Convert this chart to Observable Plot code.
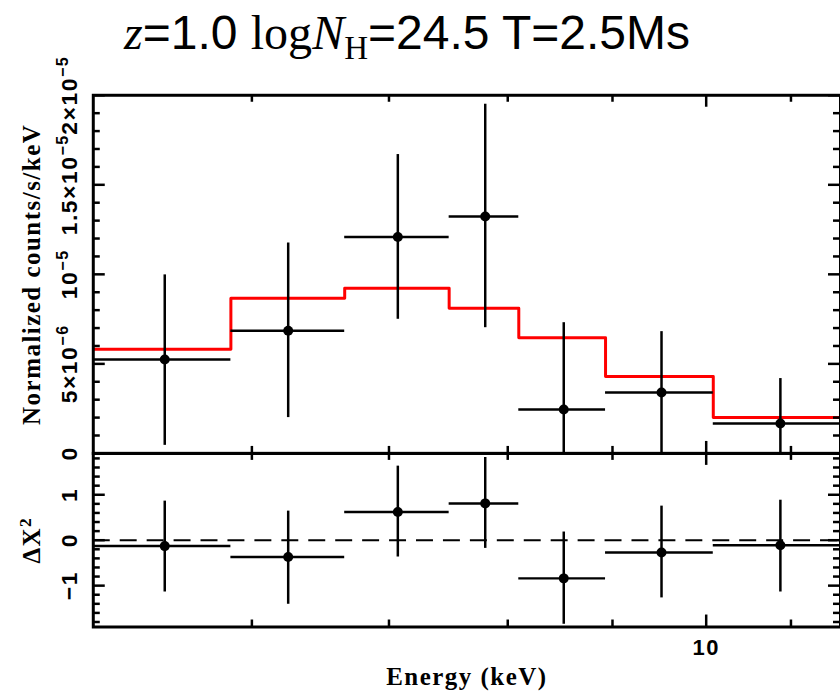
<!DOCTYPE html>
<html><head><meta charset="utf-8">
<script src="https://cdn.jsdelivr.net/npm/d3@7"></script>
<script src="https://cdn.jsdelivr.net/npm/@observablehq/plot@0.6"></script>
<style>
html,body{margin:0;padding:0;background:#fff;}
#wrap{position:relative;width:840px;height:691px;overflow:hidden;background:#fff;}
#wrap svg{position:absolute;left:0;top:0;}
</style></head><body><div id="wrap"></div>
<script>
// ---- data ----
const binEdges = [4.9, 5.86, 6.66, 7.49, 8.10, 8.93, 10.08, 11.8];      // keV
const binCenters = [5.44, 6.25, 7.07, 7.80, 8.52, 9.51, 10.87];          // keV
const counts   = [5.24e-6, 6.85e-6, 12.09e-6, 13.23e-6, 2.45e-6, 3.40e-6, 1.67e-6];
const countsLo = [0.45e-6, 2.0e-6, 7.49e-6, 7.02e-6, 0, 0, 0];
const countsHi = [9.97e-6, 11.75e-6, 16.69e-6, 19.5e-6, 7.30e-6, 6.80e-6, 4.18e-6];
const model    = [5.82e-6, 8.66e-6, 9.22e-6, 8.11e-6, 6.46e-6, 4.29e-6, 2.01e-6];
const resid    = [-0.13, -0.37, 0.62, 0.81, -0.84, -0.27, -0.11];
const residLo  = [-1.14, -1.41, -0.37, -0.18, -1.85, -1.27, -1.14];
const residHi  = [0.86, 0.64, 1.63, 1.82, 0.18, 0.75, 0.88];

const xDomain = [5.02, 11.63];
const yDomainTop = [0, 2e-5];
const yDomainBottom = [-1.91, 1.91];

// "^" marks the start of a superscript
const yTicksTop = [0, 5e-6, 1e-5, 1.5e-5, 2e-5];
const yTickLabelsTop = ["0", "5×10^−6", "10^−5", "1.5×10^−5", "2×10^−5"];
const yMinorTop = [1,2,3,4,6,7,8,9,11,12,13,14,16,17,18,19].map(v => v * 1e-6);
const yTicksBottom = [-1, 0, 1];
const yTickLabelsBottom = ["−1", "0", "1"];
const yMinorBottom = [-1.8,-1.6,-1.4,-1.2,-0.8,-0.6,-0.4,-0.2,0.2,0.4,0.6,0.8,1.2,1.4,1.6,1.8];
const xTicksMinor = [6, 7, 8, 9, 11];
const xTicksMajor = [10];
const xTickLabels = ["10"];

const yLabelTop = "Normalized counts/s/keV";
const yLabelBottom = "ΔX^2";
const xLabel = "Energy (keV)";

// ---- layout ----
const W = 842, H = 691, ML = 93, MR = 0;
const topT = 95, topB = 454, botB = 628;
const FW = W - ML - MR;
const minorLen = 7, majorLen = 12;
const idx = d3.range(binCenters.length);
const stepData = idx.map(i => ({x: binEdges[i], y: model[i]}))
  .concat([{x: binEdges[binEdges.length - 1], y: model[model.length - 1]}]);

const tickFont = {fontSize: 23, fontWeight: "bold", fontFamily: "Liberation Sans, Arial, sans-serif", fill: "black"};
const labelFont = {fontSize: 25, fontWeight: "bold", fontFamily: "Liberation Serif, Times New Roman, serif", fill: "black"};

function yTicks(values, len) {
  return [
    Plot.tickY(values, {y: d => d, insetRight: FW - len, stroke: "black", strokeWidth: 2.5}),
    Plot.tickY(values, {y: d => d, insetLeft: FW - len, stroke: "black", strokeWidth: 2.5})
  ];
}
function xTicks(values, len, fh) {
  return [
    Plot.tickX(values, {x: d => d, insetBottom: fh - len, stroke: "black", strokeWidth: 2.5}),
    Plot.tickX(values, {x: d => d, insetTop: fh - len, stroke: "black", strokeWidth: 2.5})
  ];
}

const style = {background: "transparent", overflow: "visible"};

const topPlot = Plot.plot({
  width: W, height: H,
  marginLeft: ML, marginRight: MR, marginTop: topT, marginBottom: H - topB,
  x: {type: "log", domain: xDomain, axis: null},
  y: {domain: yDomainTop, axis: null},
  style,
  marks: [
    Plot.line(stepData, {x: "x", y: "y", curve: "step-after", stroke: "#ff0000", strokeWidth: 3, clip: true}),
    Plot.ruleY(idx, {y: i => counts[i], x1: i => binEdges[i], x2: i => binEdges[i + 1], stroke: "black", strokeWidth: 2.5, clip: true}),
    Plot.ruleX(idx, {x: i => binCenters[i], y1: i => countsLo[i], y2: i => countsHi[i], stroke: "black", strokeWidth: 2.5}),
    Plot.dot(idx, {x: i => binCenters[i], y: i => counts[i], r: 5, fill: "black", stroke: null}),
    ...yTicks(yMinorTop, minorLen),
    ...yTicks(yTicksTop, majorLen),
    ...xTicks(xTicksMinor, minorLen, topB - topT),
    ...xTicks(xTicksMajor, majorLen, topB - topT),
    Plot.frame({stroke: "black", strokeWidth: 3}),
    Plot.text(yTicksTop, {y: d => d, text: (d, i) => yTickLabelsTop[i], frameAnchor: "left", rotate: -90,
      textAnchor: "middle", lineAnchor: "bottom", dx: -16, ...tickFont}),
    Plot.text([yLabelTop], {text: d => d, frameAnchor: "left", rotate: -90, textAnchor: "middle",
      lineAnchor: "middle", dx: -61, ...labelFont})
  ]
});

const bottomPlot = Plot.plot({
  width: W, height: H,
  marginLeft: ML, marginRight: MR, marginTop: topB, marginBottom: H - botB,
  x: {type: "log", domain: xDomain, axis: null},
  y: {domain: yDomainBottom, axis: null},
  style,
  marks: [
    Plot.ruleY([0], {y: d => d, stroke: "black", strokeWidth: 2, strokeDasharray: "17,10"}),
    Plot.ruleY(idx, {y: i => resid[i], x1: i => binEdges[i], x2: i => binEdges[i + 1], stroke: "black", strokeWidth: 2.5, clip: true}),
    Plot.ruleX(idx, {x: i => binCenters[i], y1: i => residLo[i], y2: i => residHi[i], stroke: "black", strokeWidth: 2.5}),
    Plot.dot(idx, {x: i => binCenters[i], y: i => resid[i], r: 5, fill: "black", stroke: null}),
    ...yTicks(yMinorBottom, minorLen),
    ...yTicks(yTicksBottom, majorLen),
    ...xTicks(xTicksMinor, minorLen, botB - topB),
    ...xTicks(xTicksMajor, majorLen, botB - topB),
    Plot.frame({stroke: "black", strokeWidth: 3}),
    Plot.text(yTicksBottom, {y: d => d, text: (d, i) => yTickLabelsBottom[i], frameAnchor: "left", rotate: -90,
      textAnchor: "middle", lineAnchor: "bottom", dx: -16, ...tickFont}),
    Plot.text([yLabelBottom], {text: d => d, frameAnchor: "left", rotate: -90, textAnchor: "middle",
      lineAnchor: "middle", dx: -61, ...labelFont}),
    Plot.text(xTicksMajor, {x: d => d, text: (d, i) => xTickLabels[i], frameAnchor: "bottom",
      lineAnchor: "top", dy: 12, fontSize: 22, fontWeight: "bold", fontFamily: "Liberation Sans, Arial, sans-serif", fill: "black"}),
    Plot.text([xLabel], {text: d => d, frameAnchor: "bottom", lineAnchor: "bottom", dy: 58, ...labelFont})
  ]
});

// turn "a^b" into a with superscript b (kept as real text)
function superscripts(svg) {
  d3.select(svg).selectAll("text").each(function() {
    const el = d3.select(this);
    const s = this.textContent;
    if (this.children.length === 0 && s.includes("^")) {
      const [a, b] = s.split("^");
      el.text(a);
      el.append("tspan").attr("dy", "-0.55em").attr("font-size", "0.7em").text(b);
    }
  });
  d3.select(svg).selectAll("text").attr("letter-spacing", 1.5);
}
superscripts(topPlot);
superscripts(bottomPlot);

const wrap = document.getElementById("wrap");
wrap.appendChild(topPlot);
wrap.appendChild(bottomPlot);

// ---- title ----
const tsvg = d3.select(wrap).append("svg").attr("width", 840).attr("height", 70);
const t = tsvg.append("text").attr("x", 124).attr("y", 49).attr("font-size", 48).attr("fill", "black");
const serif = "Liberation Serif, Times New Roman, serif";
const sans = "Liberation Sans, Arial, sans-serif";
t.append("tspan").attr("font-family", serif).attr("font-style", "italic").text("z");
t.append("tspan").attr("font-family", sans).text("=1.0 ");
t.append("tspan").attr("font-family", serif).text("log");
t.append("tspan").attr("font-family", serif).attr("font-style", "italic").text("N");
t.append("tspan").attr("font-family", serif).attr("font-size", 33).attr("dy", 10).text("H");
t.append("tspan").attr("font-family", sans).attr("dy", -10).text("=24.5 T=2.5Ms");
</script></body></html>
